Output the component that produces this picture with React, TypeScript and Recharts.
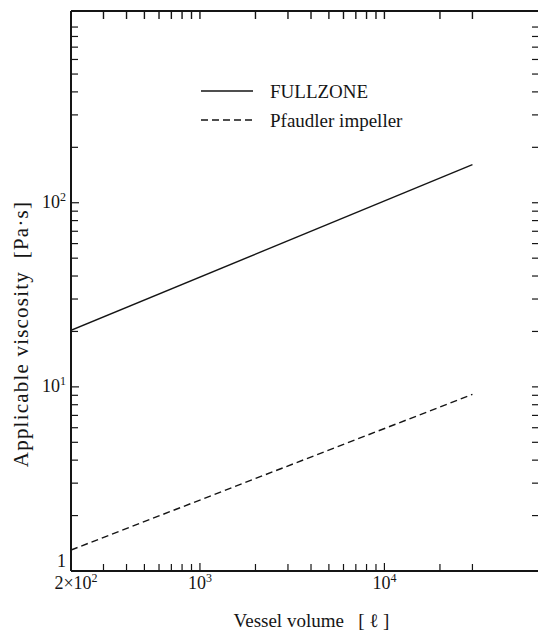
import React from 'react';
import { LineChart, Line, XAxis, YAxis, Legend } from 'recharts';

const volumes = [200, 30000];
const fullzone = [20.3, 161];
const pfaudler = [1.3, 9.1];

const xTicks = [200, 300, 400, 500, 600, 700, 800, 900, 1000, 2000, 3000, 4000, 5000, 6000, 7000, 8000, 9000, 10000, 20000, 30000];
const yTicks = [1, 2, 3, 4, 5, 6, 7, 8, 9, 10, 20, 30, 40, 50, 60, 70, 80, 90, 100, 200, 300, 400, 500, 600, 700, 800, 900];
const xTickLabels: Record<number, [string, string]> = { 200: ['2×10', '2'], 1000: ['10', '3'], 10000: ['10', '4'] };
const yTickLabels: Record<number, [string, string]> = { 1: ['1', ''], 10: ['10', '1'], 100: ['10', '2'] };

const seriesNames = ['FULLZONE', 'Pfaudler impeller'];

const data = volumes.map((v, i) => ({ volume: v, fullzone: fullzone[i], pfaudler: pfaudler[i] }));

const INK = '#151515';
const FONT = '"Liberation Serif", "Times New Roman", serif';

const CHART_W = 538;
const CHART_H = 631;
const TOP_H = 11;
const BOTTOM_H = 60;
const PLOT_H = CHART_H - TOP_H - BOTTOM_H;

// bottom ticks point inward; the same tick is mirrored on the top frame
const BottomTick = (props: any) => {
  const { x, y, payload } = props;
  const label = xTickLabels[payload.value];
  const yTop = Number(y) - PLOT_H;
  return (
    <g>
      <line x1={x} y1={y} x2={x} y2={Number(y) - (label ? 8 : 7)} stroke={INK} strokeWidth={1.2} />
      <line x1={x} y1={yTop} x2={x} y2={yTop + 8} stroke={INK} strokeWidth={1.4} />
      {label && (
        <text x={Number(x) + (payload.value === 200 ? 5 : 0)} y={Number(y) + 18} textAnchor="middle" fontFamily={FONT} fontSize={18} fill={INK}>
          {label[0]}
          <tspan dy={-7} fontSize={12}>{label[1]}</tspan>
        </text>
      )}
    </g>
  );
};

const LeftTick = (props: any) => {
  const { x, y, payload } = props;
  const label = yTickLabels[payload.value];
  return (
    <g>
      <line x1={x} y1={y} x2={Number(x) + (label ? 8 : 7)} y2={y} stroke={INK} strokeWidth={1.2} />
      {label && (
        <text x={Number(x) - 5} y={payload.value === 1 ? Number(y) - 4 : Number(y) + 5} textAnchor="end" fontFamily={FONT} fontSize={18} fill={INK}>
          {label[0]}
          {label[1] && <tspan dy={-7} fontSize={12}>{label[1]}</tspan>}
        </text>
      )}
    </g>
  );
};

const RightTick = (props: any) => {
  const { x, y } = props;
  return <line x1={x} y1={y} x2={Number(x) - 6} y2={y} stroke={INK} strokeWidth={1.2} />;
};

const XTitle = (props: any) => {
  const { viewBox } = props;
  return (
    <text x={viewBox.x + viewBox.width / 2 + 7} y={viewBox.y + viewBox.height - 4} textAnchor="middle"
      fontFamily={FONT} fontSize={19} fill={INK} style={{ whiteSpace: 'pre' }}>
      Vessel volume   [ ℓ ]
    </text>
  );
};

const YTitle = (props: any) => {
  const { viewBox } = props;
  const cx = 28;
  const cy = viewBox.y + viewBox.height / 2 + 43;
  return (
    <text x={cx} y={cy} transform={`rotate(-90, ${cx}, ${cy})`} textAnchor="middle"
      fontFamily={FONT} fontSize={21} fill={INK} letterSpacing={1.2} style={{ whiteSpace: 'pre' }}>
      Applicable viscosity  [Pa·s]
    </text>
  );
};

const LegendBox = (props: any) => {
  const { payload } = props;
  const rows = (payload || []).filter((e: any) => e.type !== 'none');
  return (
    <svg width={240} height={60}>
      {rows.map((entry: any, i: number) => (
        <g key={entry.value}>
          <line x1={0} y1={13 + i * 29} x2={52} y2={13 + i * 29} stroke={INK} strokeWidth={1.3}
            strokeDasharray={entry.dataKey === 'pfaudler' ? '7 4' : undefined} />
          <text x={69} y={20 + i * 29} fontFamily={FONT} fontSize={19} fill={INK}>{entry.value}</text>
        </g>
      ))}
    </svg>
  );
};

export default function App() {
  return (
    <div style={{ position: 'absolute', left: 0, top: 0, width: CHART_W, height: CHART_H, background: '#fff' }}>
      <LineChart width={CHART_W} height={CHART_H} data={data} margin={{ top: 0, right: -6, bottom: 0, left: 0 }}>
        <XAxis xAxisId="top" orientation="top" dataKey="volume" type="number" scale="log" domain={[200, 68000]} allowDataOverflow
          tick={false} tickLine={false} height={TOP_H} axisLine={{ stroke: INK, strokeWidth: 2 }} />
        <XAxis dataKey="volume" type="number" scale="log" domain={[200, 68000]} allowDataOverflow
          ticks={xTicks} interval={0} tickSize={0} tickMargin={0} tickLine={false} height={BOTTOM_H}
          axisLine={{ stroke: INK, strokeWidth: 2 }} tick={(p: any) => <BottomTick {...p} />}
          label={{ content: (p: any) => <XTitle {...p} /> }} />
        <YAxis type="number" scale="log" domain={[1, 1100]} allowDataOverflow
          ticks={yTicks} interval={0} tickSize={0} tickMargin={0} tickLine={false} width={71}
          axisLine={{ stroke: INK, strokeWidth: 2 }} tick={(p: any) => <LeftTick {...p} />}
          label={{ content: (p: any) => <YTitle {...p} /> }} />
        <YAxis yAxisId="right" orientation="right" type="number" scale="log" domain={[1, 1100]} allowDataOverflow
          ticks={yTicks} interval={0} tickSize={0} tickMargin={0} tickLine={false} width={6}
          axisLine={false} tick={(p: any) => <RightTick {...p} />} />
        <Legend layout="vertical" align="center" verticalAlign="middle"
          wrapperStyle={{ left: 201, top: 78, width: 240 }}
          content={(p: any) => <LegendBox {...p} />} />
        <Line dataKey="fullzone" name={seriesNames[0]} type="linear" stroke={INK} strokeWidth={1.4}
          dot={false} isAnimationActive={false} />
        <Line dataKey="pfaudler" name={seriesNames[1]} type="linear" stroke={INK} strokeWidth={1.4}
          strokeDasharray="7 4" dot={false} isAnimationActive={false} />
        {/* invisible series so the frame axes on top/right get drawn */}
        <Line xAxisId="top" yAxisId="right" dataKey="fullzone" legendType="none" stroke="transparent"
          dot={false} activeDot={false} isAnimationActive={false} />
      </LineChart>
    </div>
  );
}
